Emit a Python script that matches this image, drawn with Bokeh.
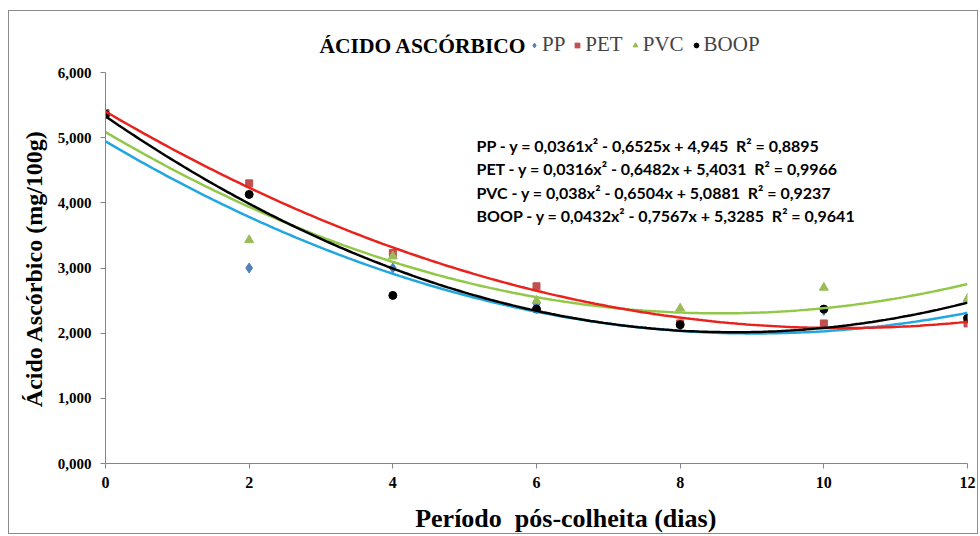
import numpy as np
from bokeh.plotting import figure
from bokeh.models import (Legend, LegendItem, Label, CustomJSTickFormatter,
                          FixedTicker, Range1d)
from bokeh.embed import file_html
from bokeh.resources import INLINE

# ---------------- data ----------------
days = [0, 2, 4, 6, 8, 10, 12]
pp = [5.37, 3.00, 3.00, 2.45, 2.13, 2.35, 2.22]
pet = [5.38, 4.30, 3.23, 2.72, 2.15, 2.15, 2.15]
pvc = [5.37, 3.43, 3.18, 2.50, 2.38, 2.70, 2.53]
boop = [5.36, 4.13, 2.58, 2.37, 2.13, 2.37, 2.23]

# trendline coefficients shown on the chart (a x^2 + b x + c)
coef_pp = (0.0361, -0.6525, 4.945)
coef_pet = (0.0316, -0.6482, 5.4031)
coef_pvc = (0.038, -0.6504, 5.0881)
coef_boop = (0.0432, -0.7567, 5.3285)

NB = "\u00a0"
equations = [
    "PP - y = 0,0361x² - 0,6525x + 4,945" + NB + " R² = 0,8895",
    "PET - y = 0,0316x² - 0,6482x + 5,4031" + NB + " R² = 0,9966",
    "PVC - y = 0,038x² - 0,6504x + 5,0881" + NB + " R² = 0,9237",
    "BOOP - y = 0,0432x² - 0,7567x + 5,3285" + NB + " R² = 0,9641",
]
x_ticks = [0, 2, 4, 6, 8, 10, 12]
y_ticks = [0, 1, 2, 3, 4, 5, 6]

SERIF = "Liberation Serif"

p = figure(width=970, height=524, output_backend="svg", toolbar_location=None,
           x_range=Range1d(0, 12), y_range=Range1d(0, 6.907),
           min_border_left=96, min_border_right=12, min_border_top=2,
           min_border_bottom=71)
p.styles = {"border": "1px solid #8c8c8c", "box-sizing": "border-box",
            "margin-left": "8px", "margin-top": "10px"}
p.outline_line_color = None
p.xgrid.visible = False
p.ygrid.visible = False

xs = np.linspace(0, 12, 200)
def curve(c):
    return c[0] * xs ** 2 + c[1] * xs + c[2]

r_pp = p.scatter(days, pp, marker="diamond", size=10, color="#4F81BD")
r_pet = p.scatter(days, pet, marker="square", size=7, color="#C0504D")
r_pvc = p.scatter(days, pvc, marker="triangle", size=9, color="#9BBB59")
r_boop = p.scatter(days, boop, marker="circle", size=8, color="black")

p.line(xs, curve(coef_pp), line_color="#22A6E0", line_width=2.5)
p.line(xs, curve(coef_pvc), line_color="#92C848", line_width=2.5)
p.line(xs, curve(coef_pet), line_color="#E8231E", line_width=2.5)
p.line(xs, curve(coef_boop), line_color="black", line_width=2.5)

# axes
for ax in (p.xaxis[0], p.yaxis[0]):
    ax.axis_line_color = "#868686"
    ax.major_tick_line_color = "#868686"
    ax.minor_tick_line_color = None
    ax.major_tick_in = 0
    ax.major_tick_out = 5
    ax.major_label_text_font = SERIF
    ax.major_label_text_font_style = "bold"
    ax.major_label_text_color = "black"
    ax.axis_label_text_font = SERIF
    ax.axis_label_text_font_style = "bold"
    ax.axis_label_text_color = "black"

p.yaxis.bounds = (0, 6)
p.xaxis.ticker = FixedTicker(ticks=x_ticks)
p.yaxis.ticker = FixedTicker(ticks=y_ticks)
p.yaxis.formatter = CustomJSTickFormatter(
    code="return tick.toFixed(3).replace('.', ',');")
p.xaxis.major_label_text_font_size = "16px"
p.yaxis.major_label_text_font_size = "15px"
p.xaxis.major_label_standoff = 8
p.yaxis.major_label_standoff = 9
# leading / trailing no-break spaces shift the centred titles like the reference
p.xaxis.axis_label = NB * 9 + "Período" + NB + " pós-colheita (dias)"
p.yaxis.axis_label = "Ácido Ascórbico (mg/100g)" + NB * 10
p.xaxis.axis_label_text_font_size = "26px"
p.yaxis.axis_label_text_font_size = "24px"
p.xaxis.axis_label_standoff = 13
p.yaxis.axis_label_standoff = 8

# title
p.add_layout(Label(x=214, y=418, x_units="screen", y_units="screen",
                   text="ÁCIDO ASCÓRBICO", text_font=SERIF,
                   text_font_style="bold", text_font_size="21.5px",
                   text_baseline="middle", text_color="black"))

legend = Legend(items=[
    LegendItem(label="PP", renderers=[r_pp]),
    LegendItem(label="PET", renderers=[r_pet]),
    LegendItem(label="PVC", renderers=[r_pvc]),
    LegendItem(label="BOOP", renderers=[r_boop]),
], orientation="horizontal", location=(423, 406),
    label_text_font=SERIF, label_text_font_size="21px",
    glyph_width=12, glyph_height=20, label_standoff=2, spacing=6,
    padding=0, margin=0, border_line_color=None, background_fill_alpha=0)
p.add_layout(legend)

# equations
eq_y = [318.5, 295, 271.5, 248]
for txt, yy in zip(equations, eq_y):
    p.add_layout(Label(x=371, y=yy, x_units="screen", y_units="screen",
                       text=txt, text_font="Lato", text_font_style="bold",
                       text_font_size="16px", text_baseline="middle",
                       text_color="black"))

open("out.html", "w").write(file_html(p, INLINE))
